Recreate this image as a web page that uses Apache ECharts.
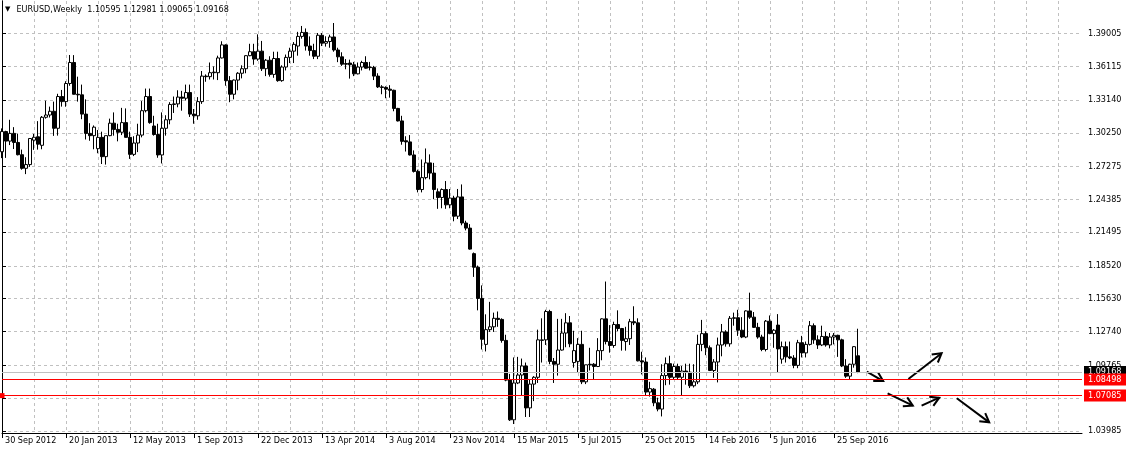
<!DOCTYPE html>
<html><head><meta charset="utf-8">
<script src="https://cdn.jsdelivr.net/npm/echarts@6/dist/echarts.min.js"></script>
<style>html,body{margin:0;padding:0;background:#fff}#c{width:1126px;height:454px}</style>
</head><body><div id="c"></div>
<script>
// ---- data ----
const titleText = 'EURUSD,Weekly  1.10595 1.12981 1.09065 1.09168';
const firstWeek = [2012, 8, 30];   // 30 Sep 2012
const weekSlots = 271;             // weeks shown on the time axis (data + empty space on the right)

const open = [
1.2858,1.3036,1.2952,1.3020,1.2940,1.2832,1.2712,1.2745,1.2960,1.2990,
1.2915,1.3162,1.3182,1.3215,1.3065,1.3345,1.3300,1.3460,1.3645,1.3365,
1.3360,1.3190,1.3020,1.3000,1.2885,1.2985,1.2815,1.3000,1.3110,1.3055,
1.3030,1.3115,1.2985,1.2835,1.2935,1.3005,1.3220,1.3345,1.3085,1.3010,
1.2830,1.3065,1.3140,1.3275,1.3280,1.3340,1.3330,1.3380,1.3190,1.3175,
1.3300,1.3525,1.3520,1.3560,1.3555,1.3685,1.3800,1.3485,1.3365,1.3490,
1.3550,1.3590,1.3705,1.3740,1.3675,1.3745,1.3590,1.3665,1.3540,1.3680,
1.3485,1.3605,1.3690,1.3745,1.3790,1.3875,1.3910,1.3790,1.3750,1.3700,
1.3885,1.3815,1.3830,1.3870,1.3755,1.3695,1.3635,1.3640,1.3625,1.3545,
1.3605,1.3645,1.3605,1.3600,1.3525,1.3430,1.3425,1.3410,1.3400,1.3240,
1.3130,1.2955,1.2945,1.2830,1.2685,1.2525,1.2630,1.2760,1.2670,1.2505,
1.2455,1.2525,1.2390,1.2450,1.2290,1.2460,1.2230,1.2185,1.1960,1.1840,
1.1565,1.1160,1.1290,1.1315,1.1390,1.1380,1.1195,1.0845,1.0495,1.0820,
1.0890,1.0970,1.0600,1.0810,1.0870,1.1195,1.1200,1.1450,1.1010,1.0985,
1.1110,1.1260,1.1350,1.1000,1.1010,1.1160,1.0830,1.0985,1.0985,1.0965,
1.1105,1.1385,1.1185,1.1150,1.1335,1.1300,1.1185,1.1210,1.1360,1.1350,
1.1015,1.1005,1.0740,1.0765,1.0645,1.0590,1.0885,1.0990,1.0870,1.0965,
1.0870,1.0925,1.0915,1.0795,1.0830,1.1160,1.1255,1.1130,1.0930,1.1005,
1.1155,1.1270,1.1165,1.1390,1.1395,1.1285,1.1225,1.1455,1.1400,1.1310,
1.1225,1.1115,1.1365,1.1255,1.1330,1.1030,1.1140,1.1050,1.1040,1.0975,
1.1175,1.1085,1.1160,1.1325,1.1200,1.1155,1.1230,1.1155,1.1225,1.1240,
1.1200,1.0970,1.0880,1.0985,1.10595];
const high = [
1.3064,1.3043,1.3140,1.3075,1.3018,1.2877,1.2810,1.2979,1.3015,1.3128,
1.3173,1.3308,1.3256,1.3300,1.3369,1.3403,1.3480,1.3711,1.3710,1.3520,
1.3450,1.3320,1.3110,1.3090,1.3050,1.3035,1.3000,1.3150,1.3205,1.3105,
1.3245,1.3240,1.3035,1.2995,1.3105,1.3305,1.3415,1.3415,1.3175,1.3105,
1.3205,1.3180,1.3295,1.3345,1.3400,1.3395,1.3450,1.3450,1.3235,1.3340,
1.3570,1.3540,1.3645,1.3610,1.3705,1.3832,1.3805,1.3525,1.3495,1.3560,
1.3620,1.3710,1.3810,1.3810,1.3893,1.3835,1.3675,1.3700,1.3740,1.3740,
1.3620,1.3715,1.3775,1.3825,1.3915,1.3967,1.3945,1.3875,1.3810,1.3905,
1.3905,1.3876,1.3890,1.3993,1.3775,1.3735,1.3675,1.3670,1.3650,1.3645,
1.3660,1.3700,1.3650,1.3615,1.3550,1.3445,1.3435,1.3445,1.3405,1.3245,
1.3175,1.2995,1.3005,1.2870,1.2700,1.2790,1.2887,1.2835,1.2760,1.2535,
1.2535,1.2600,1.2530,1.2470,1.2530,1.2570,1.2250,1.2220,1.1970,1.1855,
1.1680,1.1425,1.1535,1.1440,1.1450,1.1390,1.1245,1.0900,1.1045,1.1050,
1.1035,1.1000,1.0850,1.0880,1.1290,1.1390,1.1465,1.1465,1.1040,1.1385,
1.1385,1.1435,1.1410,1.1280,1.1215,1.1280,1.0980,1.1130,1.0995,1.1215,
1.1390,1.1714,1.1330,1.1360,1.1460,1.1305,1.1315,1.1385,1.1496,1.1390,
1.1095,1.1045,1.0830,1.0775,1.0690,1.0985,1.1045,1.1060,1.0990,1.0990,
1.0970,1.0990,1.0990,1.0985,1.1245,1.1376,1.1275,1.1150,1.1030,1.1220,
1.1340,1.1285,1.1410,1.1440,1.1465,1.1400,1.1460,1.1616,1.1445,1.1350,
1.1245,1.1375,1.1415,1.1295,1.1427,1.1185,1.1185,1.1185,1.1065,1.1200,
1.1235,1.1185,1.1366,1.1345,1.1240,1.1325,1.1270,1.1260,1.1260,1.1245,
1.1210,1.1030,1.0990,1.1145,1.12981];
const low = [
1.2802,1.2804,1.2917,1.2882,1.2826,1.2700,1.2661,1.2725,1.2875,1.2877,
1.2880,1.3150,1.3160,1.2998,1.3000,1.3256,1.3255,1.3440,1.3370,1.3300,
1.3145,1.2966,1.2955,1.2880,1.2845,1.2750,1.2745,1.2995,1.3000,1.2950,
1.3005,1.2990,1.2795,1.2820,1.2855,1.2985,1.3205,1.3105,1.3000,1.2805,
1.2755,1.3000,1.3100,1.3200,1.3250,1.3220,1.3310,1.3165,1.3105,1.3140,
1.3280,1.3475,1.3495,1.3495,1.3490,1.3680,1.3440,1.3295,1.3320,1.3400,
1.3505,1.3550,1.3700,1.3625,1.3660,1.3570,1.3525,1.3520,1.3510,1.3475,
1.3475,1.3575,1.3640,1.3640,1.3705,1.3855,1.3750,1.3705,1.3675,1.3675,
1.3790,1.3785,1.3775,1.3740,1.3648,1.3615,1.3585,1.3503,1.3525,1.3540,
1.3575,1.3590,1.3575,1.3490,1.3420,1.3365,1.3330,1.3335,1.3215,1.3125,
1.2920,1.2860,1.2825,1.2675,1.2500,1.2500,1.2615,1.2615,1.2440,1.2355,
1.2360,1.2355,1.2360,1.2245,1.2265,1.2210,1.2165,1.1995,1.1755,1.1460,
1.1115,1.1098,1.1270,1.1270,1.1315,1.1175,1.0835,1.0485,1.0458,1.0810,
1.0710,1.0520,1.0520,1.0660,1.0820,1.1000,1.1155,1.0985,1.0820,1.0885,
1.1105,1.1135,1.1135,1.0955,1.0915,1.0810,1.0810,1.0930,1.0850,1.0960,
1.1020,1.1160,1.1087,1.1130,1.1275,1.1105,1.1105,1.1155,1.1330,1.1010,
1.0895,1.0705,1.0700,1.0615,1.0570,1.0525,1.0800,1.0805,1.0850,1.0850,
1.0710,1.0805,1.0775,1.0780,1.0810,1.1100,1.1065,1.0925,1.0865,1.0825,
1.1055,1.1140,1.1140,1.1325,1.1235,1.1215,1.1215,1.1385,1.1305,1.1210,
1.1100,1.1098,1.1250,1.1130,1.0912,1.0990,1.1000,1.1030,1.0950,1.0950,
1.1045,1.1045,1.1150,1.1165,1.1120,1.1145,1.1140,1.1125,1.1160,1.1050,
1.0960,1.0865,1.0850,1.0955,1.09065];
const close = [
1.3036,1.2952,1.3020,1.2940,1.2832,1.2712,1.2745,1.2975,1.2986,1.2925,
1.3162,1.3182,1.3215,1.3065,1.3345,1.3300,1.3460,1.3645,1.3365,1.3360,
1.3190,1.3020,1.3000,1.3075,1.2985,1.2815,1.3000,1.3110,1.3055,1.3030,
1.3115,1.2985,1.2835,1.2935,1.3005,1.3220,1.3345,1.3115,1.3010,1.2830,
1.3065,1.3140,1.3275,1.3280,1.3340,1.3330,1.3380,1.3190,1.3175,1.3300,
1.3525,1.3520,1.3555,1.3555,1.3685,1.3800,1.3485,1.3365,1.3490,1.3550,
1.3590,1.3705,1.3740,1.3675,1.3745,1.3590,1.3665,1.3540,1.3680,1.3485,
1.3605,1.3690,1.3745,1.3805,1.3875,1.3910,1.3790,1.3750,1.3700,1.3885,
1.3815,1.3830,1.3870,1.3755,1.3695,1.3630,1.3630,1.3625,1.3545,1.3605,
1.3645,1.3595,1.3600,1.3525,1.3430,1.3425,1.3410,1.3400,1.3240,1.3130,
1.2950,1.2945,1.2830,1.2685,1.2525,1.2630,1.2760,1.2670,1.2525,1.2455,
1.2525,1.2390,1.2450,1.2290,1.2460,1.2230,1.2185,1.2000,1.1840,1.1565,
1.1205,1.1290,1.1315,1.1390,1.1380,1.1195,1.0845,1.0495,1.0820,1.0890,
1.0970,1.0600,1.0810,1.0870,1.1200,1.1200,1.1450,1.1010,1.0985,1.1110,
1.1260,1.1350,1.1165,1.1105,1.1160,1.0830,1.0980,1.0980,1.0965,1.1105,
1.1385,1.1185,1.1150,1.1335,1.1300,1.1195,1.1210,1.1360,1.1350,1.1015,
1.1005,1.0740,1.0770,1.0645,1.0590,1.0885,1.0990,1.0870,1.0965,1.0870,
1.0925,1.0915,1.0795,1.0830,1.1160,1.1255,1.1130,1.0930,1.1005,1.1155,
1.1270,1.1165,1.1390,1.1395,1.1285,1.1225,1.1455,1.1400,1.1310,1.1225,
1.1115,1.1365,1.1255,1.1285,1.1120,1.1140,1.1050,1.1040,1.0975,1.1175,
1.1085,1.1160,1.1325,1.1200,1.1155,1.1230,1.1155,1.1225,1.1240,1.1200,
1.0970,1.0880,1.0985,1.1140,1.09168];

const yTickLabels = ['1.39005','1.36115','1.33140','1.30250','1.27275','1.24385','1.21495',
                     '1.18520','1.15630','1.12740','1.09765','1.06875','1.03985'];
const xTickLabels = ['30 Sep 2012','20 Jan 2013','12 May 2013','1 Sep 2013','22 Dec 2013',
                     '13 Apr 2014','3 Aug 2014','23 Nov 2014','15 Mar 2015','5 Jul 2015',
                     '25 Oct 2015','14 Feb 2016','5 Jun 2016','25 Sep 2016'];
const bidLevel = 1.09168;
const redLevels = [1.08498, 1.07085];
// arrows: [week index, price] start and end
const arrowFrom = [[216.2,1.0919],[226.6,1.0855],[221.4,1.0729],[229.9,1.0620],[238.7,1.0685]];
const arrowTo   = [[220.3,1.0837],[234.9,1.1082],[227.7,1.0620],[234.3,1.0690],[246.8,1.0473]];

// ---- build ----
const MONTHS = ['Jan','Feb','Mar','Apr','May','Jun','Jul','Aug','Sep','Oct','Nov','Dec'];
const weeks = [];
for (let i = 0; i < weekSlots; i++) {
  const d = new Date(Date.UTC(firstWeek[0], firstWeek[1], firstWeek[2]) + i * 7 * 86400000);
  weeks.push(d.getUTCDate() + ' ' + MONTHS[d.getUTCMonth()] + ' ' + d.getUTCFullYear());
}
const candles = open.map((o, i) => [o, close[i], low[i], high[i]]);
const arrows = arrowFrom.map((a, i) => [a[0], a[1], arrowTo[i][0], arrowTo[i][1]]);
const yTickValues = yTickLabels.map(Number);

const FONT = "'DejaVu Sans Condensed', 'Liberation Sans', sans-serif";
const gridColor = '#c0c0c0';
const isLabelWeek = (idx) => xTickLabels.indexOf(weeks[idx]) >= 0;

const chart = echarts.init(document.getElementById('c'), null, {renderer: 'canvas'});
chart.setOption({
  animation: false,
  backgroundColor: '#ffffff',
  textStyle: {fontFamily: FONT},
  title: {
    left: 5, top: 5, padding: 0,
    text: '{tri|▼}' + titleText,
    textStyle: {fontFamily: FONT, fontSize: 9, fontWeight: 'normal', color: '#000',
      rich: {tri: {fontFamily: 'DejaVu Sans', fontSize: 7, color: '#000', padding: [0, 6, 0, 0]}}}
  },
  grid: {left: 2, right: 44, top: 1, bottom: 21, containLabel: false},
  xAxis: [{
    type: 'category', data: weeks, boundaryGap: false,
    axisLine: {show: true, lineStyle: {color: '#000', width: 1}},
    axisTick: {show: true, interval: (idx) => isLabelWeek(idx), length: 5, lineStyle: {color: '#000'}},
    axisLabel: {show: true, interval: (idx) => isLabelWeek(idx), align: 'left', margin: 3,
      padding: [0, 0, 0, 3], fontFamily: FONT, fontSize: 9, color: '#000'},
    splitLine: {show: true, interval: (idx) => idx % 8 === 0,
      lineStyle: {color: gridColor, type: [3, 3], width: 1}}
  }, {
    type: 'value', min: 0, max: weekSlots - 1, show: false
  }],
  yAxis: [{
    type: 'value', position: 'right', min: 1.03789, max: 1.4187, scale: true,
    axisLine: {show: true, lineStyle: {color: '#000', width: 1}},
    axisTick: {show: true, customValues: yTickValues, length: 4, lineStyle: {color: '#000'}},
    axisLabel: {show: true, customValues: yTickValues, margin: 6, fontFamily: FONT, fontSize: 9,
      color: '#000', formatter: (v) => v.toFixed(5)},
    splitLine: {show: true, lineStyle: {color: gridColor, type: [3, 3], width: 1}}
  }, {
    type: 'value', position: 'left', min: 1.03789, max: 1.4187,
    axisLine: {show: true, lineStyle: {color: '#000', width: 1}},
    axisTick: {show: false}, axisLabel: {show: false}, splitLine: {show: false}
  }],
  series: [{
    type: 'candlestick',
    xAxisIndex: 0, yAxisIndex: 0,
    data: candles,
    barWidth: 3,
    itemStyle: {color: '#ffffff', color0: '#000000', borderColor: '#000000', borderColor0: '#000000', borderWidth: 1},
    markLine: {
      silent: true, animation: false, symbol: ['none', 'none'], precision: 5,
      label: {position: 'end', distance: 2, fontFamily: FONT, fontSize: 9, color: '#fff',
        padding: [2, 8, 1, 4], formatter: (p) => Number(p.value).toFixed(5)},
      data: [
        {yAxis: bidLevel, lineStyle: {color: '#c0c0c0', type: 'solid', width: 1},
         label: {backgroundColor: '#000'}},
        {yAxis: redLevels[0], lineStyle: {color: '#ff0000', type: 'solid', width: 1},
         label: {backgroundColor: '#ff0000'}},
        {yAxis: redLevels[1], lineStyle: {color: '#ff0000', type: 'solid', width: 1},
         symbol: ['emptyRect', 'emptyRect'], symbolSize: 5, symbolOffset: [[3, 0], [-3, 0]],
         itemStyle: {color: '#ff0000', borderColor: '#ff0000'},
         label: {backgroundColor: '#ff0000'}}
      ]
    }
  }, {
    type: 'custom',
    xAxisIndex: 1, yAxisIndex: 0,
    data: arrows,
    encode: {x: [0, 2], y: [1, 3]},
    clip: false,
    renderItem: function (params, api) {
      const p0 = api.coord([api.value(0), api.value(1)]);
      const p1 = api.coord([api.value(2), api.value(3)]);
      const ang = Math.atan2(p1[1] - p0[1], p1[0] - p0[0]);
      const L = 10, a = Math.PI / 6;
      const h1 = [p1[0] - L * Math.cos(ang - a), p1[1] - L * Math.sin(ang - a)];
      const h2 = [p1[0] - L * Math.cos(ang + a), p1[1] - L * Math.sin(ang + a)];
      return {
        type: 'group',
        children: [
          {type: 'line', shape: {x1: p0[0], y1: p0[1], x2: p1[0], y2: p1[1]},
           style: {stroke: '#000', lineWidth: 2}},
          {type: 'polyline', shape: {points: [h1, p1, h2]},
           style: {stroke: '#000', lineWidth: 2, fill: null}}
        ]
      };
    }
  }]
});
</script></body></html>
